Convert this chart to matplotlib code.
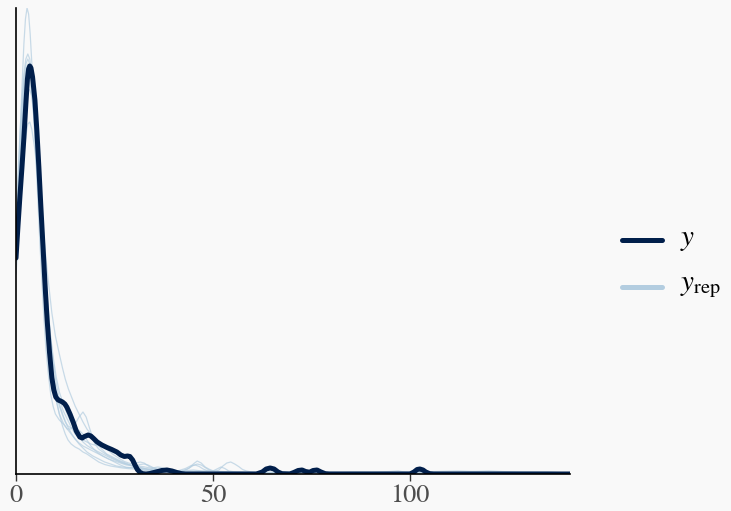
import matplotlib
matplotlib.use("Agg")
import matplotlib.pyplot as plt
from matplotlib.lines import Line2D

plt.rcParams['mathtext.fontset'] = 'stix'
plt.rcParams['font.family'] = ['STIXGeneral', 'Liberation Serif', 'DejaVu Serif']

# observed density y (x, density height)
y_x = [0, 0.5, 1.0, 1.5, 2.0, 2.5, 2.9, 3.2, 3.5, 3.8, 4.2, 4.8, 5.3, 5.8, 6.3, 6.9, 7.4, 7.9, 8.5,
       9.1, 9.6, 10.1, 10.7, 11.3, 11.8, 12.4, 12.9, 13.7, 14.5, 15.3, 16.2, 16.8, 17.4, 18.3, 19.0,
       19.7, 20.6, 21.8, 23.1, 24.3, 25.6, 26.6, 27.5, 28.3, 28.9, 29.6, 30.2, 30.8, 31.5, 32.2, 33,
       34, 35.5, 37, 38.3, 39.6, 40.8, 42, 43, 61, 62.5, 63.5, 64.5, 65.5, 66.5, 67.5, 69.5, 70.5,
       71.6, 72.6, 73.5, 74.5, 75.4, 76.4, 77.4, 78.5, 79.5, 100, 101, 101.8, 102.5, 103.3, 104, 105,
       106, 140.6]
y_d = [216, 248, 278, 306, 336, 370, 395, 405, 408, 406, 397, 374, 343, 307, 268, 224, 187, 154, 122,
       96, 84, 77, 74, 73, 72, 70, 67, 60, 52, 43, 37, 36, 37.5, 39, 38,
       35.5, 32, 29, 26.5, 24.5, 22, 19, 17.5, 18, 17.5, 14, 9, 4.5, 1.5, 0.3, 0,
       0.5, 2, 3.5, 4, 3, 1.5, 0.4, 0, 0, 2, 5, 6, 5, 2, 0.3, 0, 1.5,
       3.5, 4, 2.5, 1.8, 3.5, 4, 2, 0.3, 0, 0, 2, 4.5, 5, 4, 2, 0.3,
       0, 0]

# replicated densities y_rep
rep1_x = [0, 0.5, 1, 1.5, 2, 2.4, 2.8, 3.2, 3.6, 4.1, 4.6, 5.1, 5.6, 6.1, 6.6, 7.1, 7.6, 8.2, 8.8, 9.4,
          10, 11, 12, 13, 14, 15, 16, 17, 18, 19.5, 21, 22.5, 24, 25.5, 27, 28.5, 30, 31.5, 33, 34.5,
          36, 38, 40, 42, 43.5, 45, 46.5, 48, 51, 55, 62, 70, 80, 90, 100, 110, 118, 125, 132, 140.6]
rep1_d = [240, 288, 335, 385, 430, 455, 466, 460, 440, 405, 360, 313, 270, 228, 190, 155, 125, 100, 80, 68,
          60, 54, 50, 45, 40, 35, 30, 26, 22, 18, 15, 12, 10, 8, 7, 6.5, 6, 5.5, 5, 4,
          3, 2.2, 2, 2.5, 3.5, 4, 3.3, 2, 1.3, 1, 1.2, 1, 0.5, 0.3, 0.6, 1, 1.5, 2, 1, 0.3]
rep2_x = [0, 0.5, 1, 1.5, 2, 2.5, 3, 3.5, 4, 4.7, 5.5, 6.2, 7, 8, 9.1, 10, 11, 11.8, 12.5, 13.3,
          14.2, 15, 16, 17, 18, 19, 20, 21.5, 23, 24.5, 26, 27.5, 29, 30.5, 31.5, 32.5, 34, 36, 38, 40,
          42, 43.5, 45, 46, 47, 48, 49, 51, 53, 55.5, 58, 66, 72, 75, 80, 88, 95, 105, 115, 125, 140.6]
rep2_d = [200, 230, 260, 290, 320, 338, 350, 352, 345, 327, 300, 272, 240, 200, 161, 138, 120, 106, 95, 85,
          76, 68, 60, 52, 45, 40, 35, 30, 25, 20, 16, 12.5, 10.5, 11, 12, 11, 7, 5, 4, 3.2,
          3, 5, 8.5, 10, 9, 6.5, 4, 2.6, 2, 1.4, 1, 1.2, 1.8, 2, 1.6, 1.1, 1, 1.5, 2, 1.6, 1]
rep3_x = [0, 0.5, 1, 1.5, 2, 2.5, 3, 3.5, 4, 4.5, 5, 5.8, 6.5, 7.2, 8, 8.7, 9.5, 10.2, 11, 12,
          13, 14, 15, 16, 17, 17.8, 18.5, 19.3, 20, 21, 22, 23.5, 25, 26.5, 28, 29.5, 31, 33, 35, 36.5,
          38, 39.5, 41, 42.5, 44, 45, 46, 47, 48, 49.5, 51, 52.5, 54, 57, 60, 75, 80, 85, 90, 95,
          100, 110, 120, 140.6]
rep3_d = [230, 276, 320, 358, 390, 404, 410, 404, 390, 358, 320, 268, 220, 178, 140, 113, 90, 73, 60, 51,
          45, 45, 50, 57, 62, 57, 48, 38, 30, 25, 22, 18, 15, 12.3, 10, 8.4, 7, 5.3, 4, 3.4,
          3, 2.5, 2, 3, 6, 10, 13, 11, 7, 3.8, 2, 1.3, 1, 0.4, 0, 0.6, 1.5, 2, 1.6, 1.4,
          2, 1.4, 1, 1]
rep4_x = [0, 0.5, 1, 1.5, 2, 2.5, 3, 3.5, 4, 4.5, 5, 5.7, 6.5, 7.2, 8, 8.7, 9.5, 10.2, 11, 12,
          13, 14, 15, 16, 17, 18, 19, 20.5, 22, 23.5, 25, 26.5, 28, 29.5, 30.5, 31.5, 32.5, 33.5, 34.5, 35.7,
          37, 38.5, 40, 46, 50, 51.5, 52.5, 53.5, 54.5, 55.5, 56.5, 57.5, 58.5, 60, 62, 70, 80, 90, 95, 97,
          98.5, 100, 110, 125, 140.6]
rep4_d = [210, 257, 300, 338, 370, 388, 395, 392, 380, 358, 330, 287, 240, 198, 160, 128, 100, 83, 70, 58,
          48, 41, 35, 31, 28, 26, 24, 21, 18, 15, 12, 9, 6.5, 6.5, 8, 9.5, 10, 9, 7, 4.5,
          3, 2.3, 2, 1.7, 1.8, 4, 8, 11, 12, 10, 7.5, 4.5, 3, 1.8, 1, 0.8, 1, 1.5, 2.5, 3,
          2, 1, 0.5, 0.5, 0]
rep5_x = [0, 0.5, 1, 1.5, 2, 2.5, 3, 3.5, 4, 4.5, 5, 5.7, 6.5, 7.2, 8, 8.7, 9.5, 10.2, 11, 11.8,
          12.5, 13.2, 14, 15, 16, 17, 18, 19.5, 21, 22.5, 24, 25.5, 27, 28.5, 30, 31.5, 33, 34.3, 35.3, 36,
          37, 38, 40, 42, 46, 50, 51, 52, 53, 54, 56, 60, 66, 70, 72, 73, 74, 80, 88, 96,
          104, 112, 120, 130, 140.6]
rep5_d = [250, 298, 340, 374, 400, 415, 420, 415, 400, 374, 340, 285, 230, 183, 145, 117, 95, 75, 60, 48,
          40, 34, 30, 27, 25, 22, 20, 16, 12, 9.5, 8, 7, 6, 5.4, 5, 4.4, 4, 5, 6.5, 7,
          6.4, 5, 3.6, 3, 2.8, 3, 5, 7, 5.5, 3, 1.8, 1, 1.5, 2.5, 3, 2.2, 1, 1, 2, 1.8,
          2.2, 3, 2, 0.8, 0]
rep6_x = [0, 0.5, 1, 1.5, 2, 2.5, 3, 3.5, 4, 4.5, 5, 5.8, 6.5, 7.2, 8, 8.7, 9.5, 10.2, 11, 12,
          13, 14, 15, 16, 17, 18, 19, 20, 21, 22, 23, 24.5, 26, 27.5, 29, 30.5, 32, 33.5, 35, 37,
          39, 41, 43, 44.5, 45.5, 46.5, 47.5, 48.7, 50, 55, 60, 65, 72, 85, 95, 105, 112, 117, 120, 123,
          128, 140.6]
rep6_d = [220, 266, 310, 348, 380, 396, 402, 400, 392, 372, 345, 302, 260, 215, 175, 140, 110, 90, 75, 63,
          55, 47, 40, 36, 34, 32, 30, 29, 28, 24, 20, 17, 14, 11.5, 9, 6.3, 4, 3.4, 3, 2.4,
          2, 3, 5.5, 8.5, 9, 7.5, 5, 3, 2, 1.6, 1.8, 2, 1.5, 1, 0.8, 1, 1.8, 2.6, 3, 2.5,
          1.5, 1]
rep7_x = [0, 0.5, 1, 1.5, 2, 2.5, 3, 3.5, 4, 4.5, 5, 5.7, 6.5, 7.2, 8, 8.7, 9.5, 10.2, 11, 11.8,
          12.5, 13.2, 14, 14.8, 15.5, 16.2, 17, 18, 19, 20.5, 22, 23.5, 25, 26.5, 28, 29.5, 31, 32.5, 34, 35.5,
          37, 39, 41, 44, 48, 52, 55, 57, 58.5, 60, 65, 70, 80, 88, 93, 100, 110, 120, 130, 135,
          140.6]
rep7_d = [235, 282, 325, 363, 395, 410, 415, 410, 398, 370, 335, 283, 235, 188, 150, 120, 96, 80, 68, 59,
          52, 48, 46, 45.3, 45, 43, 40, 34, 28, 22, 18, 15, 13, 11, 9, 8.3, 8, 7.2, 6, 4.4,
          3, 2.3, 2, 1.5, 1, 1, 1.5, 2, 1.6, 1, 0.4, 0, 0.4, 0.8, 1, 1, 0.8, 1.3, 2, 1.6,
          1]
rep8_x = [0, 0.5, 1, 1.5, 2, 2.5, 3, 3.5, 4, 4.5, 5, 5.8, 6.5, 7.2, 8, 8.7, 9.5, 10.2, 11, 12,
          13, 14, 15, 16, 17, 18, 19, 20, 21, 22.5, 24, 25.5, 27, 28.5, 30, 31.5, 33, 34.5, 36, 38,
          40, 42.5, 45, 47, 49, 52, 55, 59, 63, 70, 78, 85, 95, 104, 115, 125, 135, 140.6]
rep8_d = [205, 249, 290, 328, 360, 378, 385, 384, 378, 362, 340, 298, 255, 210, 170, 140, 115, 97, 82, 70,
          60, 51, 44, 37.5, 32, 28.5, 26, 24, 22, 19, 16, 13.5, 11, 9.4, 8, 6.4, 5, 3.9, 3, 2.3,
          2, 1.8, 2, 2.6, 3, 2.5, 2, 1.4, 1, 1.3, 2, 1.5, 1, 1, 1.3, 1.6, 2, 1]

reps = [(rep1_x, rep1_d), (rep2_x, rep2_d), (rep3_x, rep3_d), (rep4_x, rep4_d),
        (rep5_x, rep5_d), (rep6_x, rep6_d), (rep7_x, rep7_d), (rep8_x, rep8_d)]

x_ticks = [0, 50, 100]
legend_labels = [r'$y$', r'$y_{\mathrm{rep}}$']

dark = '#011f4b'
light = '#b3cde0'
bg = '#f9f9f9'

fig = plt.figure(figsize=(7.31, 5.11), dpi=100, facecolor=bg)
ax = fig.add_axes([16/731, 1 - 474/511, (570 - 16)/731, (474 - 8)/511])
ax.set_facecolor(bg)

for rx, rd in reps:
    ax.plot(rx, rd, color=light, lw=0.9, alpha=0.7, solid_capstyle='round',
            solid_joinstyle='round')
ax.plot(y_x, y_d, color=dark, lw=3.6, solid_capstyle='round', solid_joinstyle='round')

ax.set_xlim(0, 140.6)
ax.set_ylim(0, 466)
for s in ['top', 'right']:
    ax.spines[s].set_visible(False)
for s in ['left', 'bottom']:
    ax.spines[s].set_color('black')
    ax.spines[s].set_linewidth(1.2)
ax.set_yticks([])
ax.set_xticks(x_ticks)
ax.set_xticklabels([str(t) for t in x_ticks])
ax.tick_params(axis='x', length=5, width=1, color='#333333', labelcolor='#4d4d4d',
               labelsize=19, pad=2)

# legend
fig.add_artist(Line2D([622/731, 662/731], [1 - 240/511] * 2, color=dark, lw=3.6,
                      solid_capstyle='round', transform=fig.transFigure))
fig.add_artist(Line2D([622/731, 662/731], [1 - 287/511] * 2, color=light, lw=3.6,
                      solid_capstyle='round', transform=fig.transFigure))
fig.text(680/731, 1 - 240/511, legend_labels[0], fontsize=21, va='center', ha='left')
fig.text(680/731, 1 - 287/511, legend_labels[1], fontsize=21, va='center', ha='left')

fig.savefig('out.png', dpi=100, facecolor=bg)
